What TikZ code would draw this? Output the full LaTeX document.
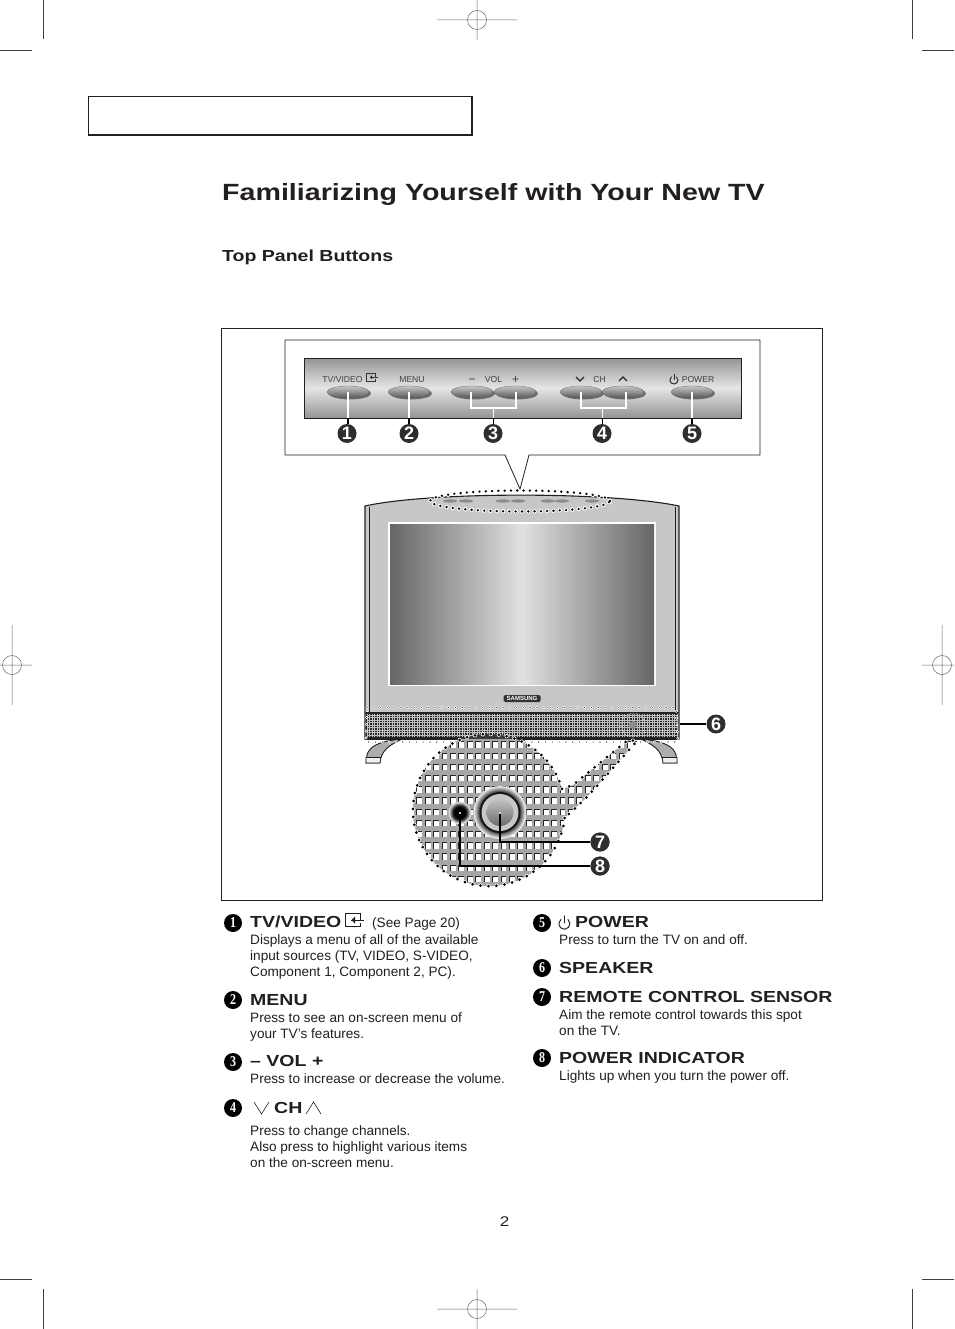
\documentclass[tikz,border=0pt]{standalone}
\usepackage{fontspec}
\setmainfont{Liberation Sans}
\newfontfamily\headfont[FakeStretch=1.22]{Liberation Sans}
\newfontfamily\bulfont[FakeStretch=0.8]{Liberation Serif}
\usetikzlibrary{calc}
\definecolor{ink}{HTML}{231F20}
\definecolor{lensgray}{HTML}{A6A6A6}
\tikzset{
  crop/.style={draw=black!75,line width=0.5pt},
  title/.style={anchor=base west,inner sep=0,text=ink,font=\headfont\bfseries\fontsize{23.45}{28}\selectfont},
  subtitle/.style={anchor=base west,inner sep=0,text=ink,font=\headfont\bfseries\fontsize{16}{18}\selectfont},
  head/.style={anchor=base west,inner sep=0,text=ink,font=\headfont\bfseries\fontsize{16}{18}\selectfont},
  body/.style={anchor=base west,inner sep=0,text=ink,align=left,font=\fontsize{13.6}{16}\selectfont},
  panellabel/.style={anchor=base,inner sep=0,text=black!75,font=\fontsize{8.6}{10}\selectfont},
  numdot/.style={circle,fill=black!82,text=white,inner sep=0,minimum size=19pt,font=\bfseries\fontsize{18}{18}\selectfont},
  buldot/.style={circle,fill=black,text=white,inner sep=0,minimum size=18pt,font=\bulfont\bfseries\fontsize{15}{15}\selectfont},
  leadW/.style={draw=white,line width=2.4pt},
  leadK/.style={draw=black,line width=1.5pt},
  panelW/.style={draw=white,line width=1.5pt},
  panelK/.style={draw=black,line width=1.5pt},
  poweric/.pic={\draw[line width=0.95pt,line cap=round,pic actions] (2.4,-2.4) arc[start angle=50,end angle=-230,radius=3.8pt]; \draw[line width=0.95pt,line cap=round,pic actions] (0,-5) -- (0,0);},
  inputic/.pic={\draw[line width=0.95pt,pic actions] (15,-3) -- (15,-10) -- (0,-10) -- (0,3) -- (15,3) -- (15,-1); \draw[line width=0.95pt,pic actions] (6,-3.5) -- (19,-3.5); \fill[ink] (10,-7) -- (10,0) -- (6.5,-3.5) -- cycle;}
}
\newcommand{\lenspath}{(564.6,818) arc[start angle=-6,end angle=-344,radius=76pt] -- (573,785) -- (628,740) -- (637,741) -- (587,797) -- cycle}
\newcommand{\panelbutton}[1]{%
  \fill[black!58] (#1+2,393.5) ellipse[x radius=21pt,y radius=6pt];
  \shade[top color=black!22,bottom color=black!66,draw=black!60,line width=0.3pt] (#1,392) ellipse[x radius=21pt,y radius=6pt];
}
\begin{document}
\begin{tikzpicture}[x=1pt,y=-1pt]
\useasboundingbox (0,0) rectangle (954,1329);
\fill[white] (0,0) rectangle (954,1329);
% crop marks
\draw[crop] (43,0)--(43,39) (0,50)--(32,50) (912,0)--(912,39) (922,50)--(954,50);
\draw[crop] (43,1289)--(43,1329) (0,1279)--(32,1279) (912,1289)--(912,1329) (922,1279)--(954,1279);
\draw[crop,black!60] (477,20) circle[radius=9.5pt] (437,20)--(517,20) (477,0)--(477,40);
\draw[crop,black!60] (477,1309) circle[radius=9.5pt] (437,1309)--(517,1309) (477,1289)--(477,1329);
\draw[crop,black!60] (12,665) circle[radius=9.5pt] (0,665)--(32,665) (12,625)--(12,705);
\draw[crop,black!60] (942,665) circle[radius=9.5pt] (922,665)--(954,665) (942,625)--(942,705);
% header box
\draw[ink,line width=0.7pt] (88,96) rectangle (472,135);
\draw[ink,line width=1.6pt] (88,135)--(472,135)--(472,96);
\node[title] (maintitle) at (222,201) {Familiarizing Yourself with Your New TV};
\node[subtitle] (subt) at (222,261.5) {Top Panel Buttons};
% main frame
\draw[ink,line width=0.7pt] (221,328) rectangle (822,900);
% callout
\draw[ink,line width=0.8pt] (285,340)--(760,340)--(760,455)--(529,455)--(520,489)--(505,455)--(285,455)--cycle;
% panel
\shade[top color=black!42,bottom color=black!42,middle color=black!10,draw=ink,line width=0.7pt] (304,358) rectangle (741,418);
\foreach \bx in {348,409,472,515,581,623,692}{\panelbutton{\bx}}
\node[panellabel] (lbltv) at (342.5,382) {TV/VIDEO};
\pic[scale=0.62,draw=black!80] at (366,379.5) {inputic};
\node[panellabel] (lblmenu) at (412,382) {MENU};
\node[panellabel] (lblvol) at (493.5,382) {VOL};
\node[panellabel] (lblch) at (599.5,382) {CH};
\node[panellabel] (lblpower) at (698,382) {POWER};
\node[panellabel,font=\fontsize{12}{12}\selectfont] (lblminus) at (472,383) {−};
\node[panellabel,font=\fontsize{12}{12}\selectfont] (lblplus) at (515.5,383) {+};
\draw[line width=1.1pt,black!85] (576,377)--(580,381)--(584,377) (619,381)--(623,377)--(627,381);
\pic[scale=1.05,draw=black!85] at (674,379.5) {poweric};
% panel number dots
\coordinate (b1) at (348,392); \coordinate (b2) at (409,392);
\coordinate (b3a) at (471,392); \coordinate (b3b) at (516,392); \coordinate (j3) at (493.5,408);
\coordinate (b4a) at (581,392); \coordinate (b4b) at (626,392); \coordinate (j4) at (602.5,408);
\coordinate (b5) at (692,392);
\coordinate (pb) at (304,418);
\path[panelW] (b1)--(b1|-pb);
\path[panelW] (b2)--(b2|-pb);
\path[panelW] (b3a)--(b3a|-j3)--(b3b|-j3)--(b3b);
\path[panelW] (j3)--(j3|-pb);
\path[panelW] (b4a)--(b4a|-j4)--(b4b|-j4)--(b4b);
\path[panelW] (j4)--(j4|-pb);
\path[panelW] (b5)--(b5|-pb);
\node[numdot] (n1) at (347,433.5) {1};
\node[numdot] (n2) at (409,433.5) {2};
\node[numdot] (n3) at (493,433.5) {3};
\node[numdot] (n4) at (602,433.5) {4};
\node[numdot] (n5) at (692,433.5) {5};
\path[panelK] (b1|-pb)--(b1|-n1.north);
\path[panelK] (b2|-pb)--(b2|-n2.north);
\path[panelK] (j3|-pb)--(j3|-n3.north);
\path[panelK] (j4|-pb)--(j4|-n4.north);
\path[panelK] (b5|-pb)--(b5|-n5.north);
% TV stand
\fill[black!78] (457,737) rectangle (525,741);
\draw[ink,line width=0.9pt,fill=black!32] (366,763) -- (367,755) .. controls (369,747) and (378,741) .. (402,739) .. controls (390,745) and (381,750) .. (380,763) -- cycle;
\draw[ink,line width=0.6pt,fill=black!6] (366,757.5) -- (380.5,757.5) -- (380,763) -- (366,763) -- cycle;
\draw[ink,line width=0.9pt,fill=black!32] (677,763) -- (676,755) .. controls (674,747) and (665,741) .. (641,739) .. controls (653,745) and (662,750) .. (663,763) -- cycle;
\draw[ink,line width=0.6pt,fill=black!6] (677,757.5) -- (662.5,757.5) -- (663,763) -- (677,763) -- cycle;
% TV body
\fill[black!22] (365,506) .. controls (430,491.5) and (610,491.5) .. (679,506) -- (679,739) -- (365,739) -- cycle;
\draw[ink,line width=1.1pt] (365,506) .. controls (430,491.5) and (610,491.5) .. (679,506) -- (679,739) -- (365,739) -- cycle;
\draw[ink,line width=0.5pt] (369,507)--(369,713) (675,507)--(675,713);
% screen
\fill[white] (388,522) rectangle (656,686);
\shade[left color=black!60,right color=black!60,middle color=black!12] (390,524) rectangle (654,684);
% logo
\fill[black!80,rounded corners=1.5pt] (503.5,695) rectangle (540.5,702);
\node[inner sep=0,text=white,font=\bfseries\fontsize{6}{6}\selectfont] (logo) at (522,698.6) {SAMSUNG};
% top buttons
\foreach \tx in {450,466,503,518,548,562,592}{\fill[black!45] (\tx,501) ellipse[x radius=7pt,y radius=1.6pt];}
\draw[white,line width=4.4pt,line cap=round,dash pattern=on 0pt off 6.3pt] (520,501) ellipse[x radius=90pt,y radius=10.5pt];
\draw[black,line width=2.6pt,line cap=round,dash pattern=on 0pt off 6.3pt] (520,501) ellipse[x radius=90pt,y radius=10.5pt];
% speaker
\fill[black!85] (366,713) rectangle (678,738);
\foreach \sx in {367,369.5,...,677}{\draw[black!25,line width=0.6pt] (\sx,714)--(\sx,737);}
\foreach \sy in {715,717.5,...,737}{\draw[black!25,line width=0.6pt] (367,\sy)--(677,\sy);}
\draw[ink,line width=1.1pt] (365,739)--(679,739) (365,712.5)--(679,712.5);
\draw[white,line width=3.2pt,line cap=round,dash pattern=on 0pt off 6.8pt] (367,707.5) -- (676,707.5) -- (678,742) -- (366,742) -- cycle;
\draw[black,line width=1.1pt,line cap=round,dash pattern=on 0pt off 6.8pt] (367,707.5) -- (676,707.5) -- (678,742) -- (366,742) -- cycle;
\fill[black!45] (633,725) circle[radius=4pt];
\draw[black!15,line width=1.2pt,line cap=round,dash pattern=on 0pt off 3pt] (633,725) circle[radius=12pt];
% lens
\fill[lensgray] \lenspath;
\begin{scope}
\clip \lenspath;
\fill[black!78] (450,733) rectangle (530,739);
\foreach \ry in {0,...,12}{
  \foreach \cx in {0,...,27}{
    \pgfmathsetmacro{\gx}{408.3+\cx*8.43}
    \pgfmathsetmacro{\gy}{741.9+\ry*11.2}
    \fill[white] (\gx,\gy) rectangle ++(5.4,5.8);
    \draw[black!85,line width=0.85pt] (\gx,\gy+5.8)--(\gx,\gy)--(\gx+5.4,\gy);
  }
}
\end{scope}
\draw[white,line width=4.2pt,line cap=round,line join=round,dash pattern=on 0pt off 8pt] \lenspath;
\draw[black,line width=3pt,line cap=round,dash pattern=on 0pt off 8pt] \lenspath;
% sensor
\foreach \rr/\cc in {26.5/8,25.5/18,24.5/30,23.5/42,22.5/55,21.5/68}{\fill[black!\cc] (500,812.5) circle[radius=\rr pt];}
\fill[black!92] (500,812.5) circle[radius=20.5pt];
\fill[black!22] (500,812.5) circle[radius=18.5pt];
\shade[top color=black!24,bottom color=black!58] (500,812.5) circle[radius=13.5pt];
% indicator
\foreach \rr/\cc in {11.5/12,10.5/28,9.5/48,8.5/70,7.5/88,6/100}{\fill[black!\cc] (460,813) circle[radius=\rr pt];}
% lower leaders
\node[numdot] (n6) at (716,724) {6};
\node[numdot] (n7) at (600,842) {7};
\node[numdot] (n8) at (600,866) {8};
\coordinate (spk) at (680,724); \coordinate (sens) at (500,813); \coordinate (ind) at (460,813);
\draw[black,line width=1.4pt] (spk)--(n6);
\foreach \st in {leadW,leadK}{
  \path[\st] (sens)--(sens|-n7)--(n7);
  \path[\st] (ind)--(ind|-n8)--(n8);
}
\fill[white] (500,813) circle[radius=1.2pt] (460,813) circle[radius=1.2pt];
\node[numdot] at (n7) {7};\node[numdot] at (n8) {8};
% left column
\node[buldot] (d1) at (233,923) {1};
\node[head] (h1) at (250,927.5) {TV/VIDEO};
\pic[draw=ink] at (345,923.5) {inputic};
\node[body] (s1) at (372,927.5) {(See Page 20)};
\node[body] (t1) at (250,976) {Displays a menu of all of the available\\input sources (TV, VIDEO, S-VIDEO,\\Component 1, Component 2, PC).};
\node[buldot] (d2) at (233,1000) {2};
\node[head] (h2) at (250,1005) {MENU};
\node[body] (t2) at (250,1038) {Press to see an on-screen menu of\\your TV’s features.};
\node[buldot] (d3) at (233,1062) {3};
\node[head] (h3) at (250,1066) {– VOL +};
\node[body] (t3) at (250,1083) {Press to increase or decrease the volume.};
\node[buldot] (d4) at (233,1108) {4};
\draw[ink,line width=0.6pt] (254,1102)--(261.5,1114)--(269,1102) (306,1114)--(313.5,1102)--(321,1114);
\node[head] (h4) at (274,1113) {CH};
\node[body] (t4) at (250,1167) {Press to change channels.\\Also press to highlight various items\\on the on-screen menu.};
% right column
\node[buldot] (d5) at (542,923) {5};
\pic[draw=ink,scale=1.45] at (564.5,923) {poweric};
\node[head] (h5) at (575,927) {POWER};
\node[body] (t5) at (559,944) {Press to turn the TV on and off.};
\node[buldot] (d6) at (542,968) {6};
\node[head] (h6) at (559,973) {SPEAKER};
\node[buldot] (d7) at (542,997) {7};
\node[head] (h7) at (559,1002) {REMOTE CONTROL SENSOR};
\node[body] (t7) at (559,1035) {Aim the remote control towards this spot\\on the TV.};
\node[buldot] (d8) at (542,1058) {8};
\node[head] (h8) at (559,1063) {POWER INDICATOR};
\node[body] (t8) at (559,1080) {Lights up when you turn the power off.};
\node[anchor=base,inner sep=0,text=ink,font=\headfont\fontsize{14}{16}\selectfont] (pg) at (504.5,1226) {2};
\end{tikzpicture}
\end{document}
